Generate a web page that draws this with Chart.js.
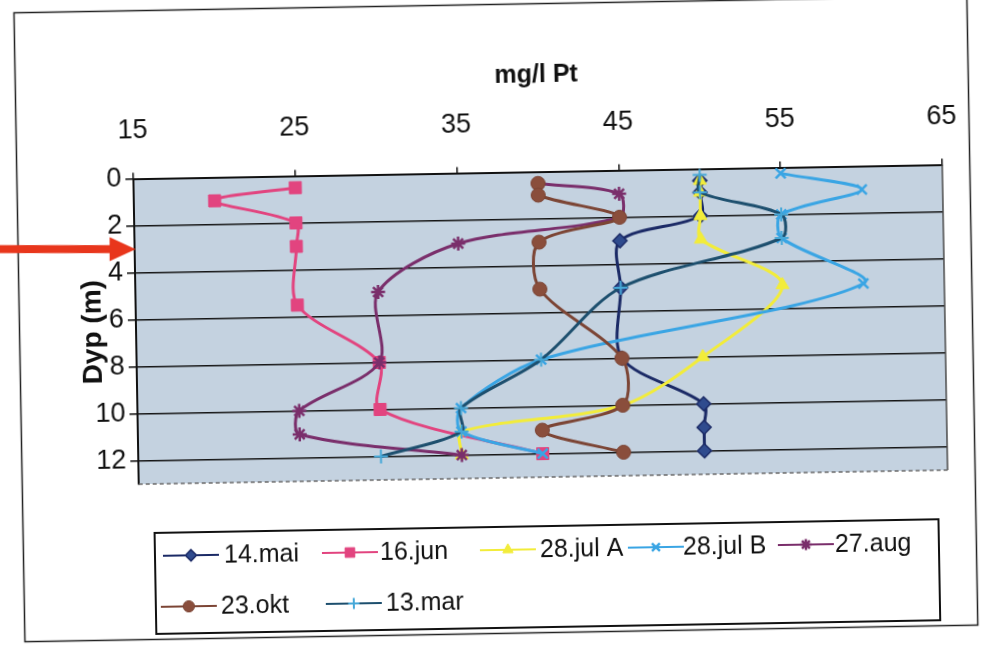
<!DOCTYPE html>
<html>
<head>
<meta charset="utf-8">
<script src="https://cdn.jsdelivr.net/npm/chart.js@4.4.1/dist/chart.umd.min.js"></script>
<style>
  html, body { margin: 0; padding: 0; background: #fff; overflow: hidden; }
  #wrap { position: absolute; left: 0; top: 0; width: 986px; height: 650px;
          transform: rotate(-1deg); transform-origin: 493px 325px; }
  canvas { display: block; }
</style>
</head>
<body>
<div id="wrap"><canvas id="c" width="986" height="650"></canvas></div>
<script>
// Colour (mg/l Pt) against depth (m) for each sampling date
const seriesNames = ['14.mai', '16.jun', '28.jul A', '28.jul B', '27.aug', '23.okt', '13.mar'];

const depth14mai = [0.5, 1, 2, 3, 5, 8, 10, 11, 12];
const pt14mai    = [50, 50, 50, 45, 45, 45, 50, 50, 50];

const depth16jun = [0.5, 1, 2, 3, 5.5, 8, 10, 12];
const pt16jun    = [25, 20, 25, 25, 25, 30, 30, 40];

const depth28julA = [0.5, 1, 2, 3, 5, 8, 10, 11, 12];
const pt28julA    = [50, 50, 50, 50, 55, 50, 45, 35, 35];

const depth28julB = [0.25, 1, 2, 3, 5, 8, 10, 11, 12];
const pt28julB    = [55, 60, 55, 55, 60, 40, 35, 35, 40];

const depth27aug = [0.5, 1, 2, 3, 5, 8, 10, 11, 12];
const pt27aug    = [40, 45, 45, 35, 30, 30, 25, 25, 35];

const depth23okt = [0.5, 1, 2, 3, 5, 8, 10, 11, 12];
const pt23okt    = [40, 40, 45, 40, 40, 45, 45, 40, 45];

const depth13mar = [0.25, 1, 2, 3, 5, 8, 10, 11, 12];
const pt13mar    = [50, 50, 55, 55, 45, 40, 35, 35, 30];

const ptTicks    = [15, 25, 35, 45, 55, 65];
const depthTicks = [0, 2, 4, 6, 8, 10, 12];
const arrowDepth = 3;

const seriesDepths = [depth14mai, depth16jun, depth28julA, depth28julB, depth27aug, depth23okt, depth13mar];
const seriesValues = [pt14mai, pt16jun, pt28julA, pt28julB, pt27aug, pt23okt, pt13mar];

const styles = [
  { line: '#1B2A66', fill: '#2F4B8E', edge: '#1B2A66', shape: 'rectRot',  r: 7,   bw: 1.5 },
  { line: '#E2447F', fill: '#E2447F', edge: '#E2447F', shape: 'rect',     r: 8.5, bw: 1 },
  { line: '#F2EC3A', fill: '#F2EC3A', edge: '#F2EC3A', shape: 'triangle', r: 7.5, bw: 1 },
  { line: '#3AA5E4', fill: '#3AA5E4', edge: '#3AA5E4', shape: 'crossRot', r: 7,   bw: 2.5 },
  { line: '#7A2E6B', fill: '#7A2E6B', edge: '#7A2E6B', shape: 'star',     r: 7,   bw: 2.5 },
  { line: '#7C4535', fill: '#8A4E3C', edge: '#7C4535', shape: 'circle',   r: 7,   bw: 1 },
  { line: '#1D4F6E', fill: '#46A8D8', edge: '#46A8D8', shape: 'cross',    r: 7,   bw: 2 }
];

const FONT = '"Liberation Sans", Arial, sans-serif';
const n = seriesNames.length;

const datasets = seriesNames.map((name, i) => {
  const s = styles[i];
  return {
    label: name,
    data: seriesDepths[i].map((d, k) => ({ x: seriesValues[i][k], y: d })),
    showLine: true,
    tension: 0.3,
    borderColor: s.line,
    backgroundColor: s.fill,
    borderWidth: 3,
    pointStyle: s.shape,
    pointRadius: s.r,
    pointHoverRadius: s.r,
    pointBackgroundColor: s.fill,
    pointBorderColor: s.edge,
    pointBorderWidth: s.bw,
    order: n - 1 - i
  };
});

// legend slots: [line start x, text x, row y]
const legendSlots = [
  [159, 220, 550], [318, 376, 550], [476, 536, 550], [624, 679, 550], [774, 831, 550],
  [156, 216, 601], [321, 381, 601]
];

const decor = {
  id: 'decor',
  beforeDraw(chart) {
    const { ctx, chartArea: a } = chart;
    ctx.save();
    ctx.fillStyle = '#C4D2E0';
    ctx.fillRect(a.left, a.top, a.right - a.left, a.bottom - a.top);
    ctx.restore();
  },
  afterDraw(chart) {
    const { ctx, chartArea: a } = chart;
    const ys = chart.scales.y;
    ctx.save();
    // right and bottom edges of the plot area
    ctx.strokeStyle = '#4a4a4a';
    ctx.lineWidth = 1.5;
    ctx.beginPath();
    ctx.moveTo(a.right, a.top);
    ctx.lineTo(a.right, a.bottom);
    ctx.stroke();
    ctx.strokeStyle = '#6a6a6a';
    ctx.setLineDash([4, 3]);
    ctx.beginPath();
    ctx.moveTo(a.left, a.bottom);
    ctx.lineTo(a.right, a.bottom);
    ctx.stroke();
    ctx.setLineDash([]);

    // outer frame
    ctx.strokeStyle = '#222';
    ctx.lineWidth = 1.5;
    ctx.strokeRect(19.5, 4.5, 953, 629);

    // legend box
    ctx.strokeStyle = '#111';
    ctx.lineWidth = 2;
    ctx.strokeRect(151, 527, 784, 101);

    const drawPoint = Chart.helpers && Chart.helpers.drawPoint;
    chart.data.datasets.forEach((ds, i) => {
      const [sx, tx, y] = legendSlots[i];
      ctx.strokeStyle = ds.borderColor;
      ctx.lineWidth = 2;
      ctx.beginPath();
      ctx.moveTo(sx, y);
      ctx.lineTo(sx + 56, y);
      ctx.stroke();
      ctx.fillStyle = ds.pointBackgroundColor;
      ctx.strokeStyle = ds.pointBorderColor;
      ctx.lineWidth = ds.pointBorderWidth;
      if (drawPoint) {
        drawPoint(ctx, { pointStyle: ds.pointStyle, rotation: 0, radius: ds.pointRadius * 0.8, borderWidth: ds.pointBorderWidth }, sx + 28, y);
      }
      ctx.fillStyle = '#111';
      ctx.font = '25px ' + FONT;
      ctx.textBaseline = 'middle';
      ctx.textAlign = 'left';
      ctx.fillText(ds.label, tx, y + 1);
    });

    // pointer arrow at the given depth
    const tipX = a.left + 1;
    const tipY = ys.getPixelForValue(arrowDepth);
    ctx.translate(tipX, tipY);
    ctx.rotate(Math.PI / 180);
    ctx.fillStyle = '#E8361C';
    ctx.fillRect(-160, -4, 136, 8);
    ctx.beginPath();
    ctx.moveTo(0, 0);
    ctx.lineTo(-26, -12);
    ctx.lineTo(-26, 12);
    ctx.closePath();
    ctx.fill();
    ctx.restore();
  }
};

new Chart(document.getElementById('c'), {
  type: 'scatter',
  data: { datasets },
  plugins: [decor],
  options: {
    responsive: false,
    animation: false,
    events: [],
    layout: { padding: { left: 70, top: 55, right: 40, bottom: 172 } },
    plugins: { legend: { display: false }, tooltip: { enabled: false } },
    scales: {
      x: {
        type: 'linear',
        position: 'top',
        min: ptTicks[0],
        max: ptTicks[ptTicks.length - 1],
        afterBuildTicks: s => { s.ticks = ptTicks.map(v => ({ value: v })); },
        afterFit: s => { s.height = 172.5 - 55; },
        ticks: { color: '#111', font: { family: FONT, size: 27 }, padding: 26, maxRotation: 0 },
        grid: { drawOnChartArea: false, color: '#111', lineWidth: 1.5, tickLength: 6 },
        border: { color: '#111', width: 2 },
        title: { display: true, text: 'mg/l Pt', color: '#111',
                 font: { family: FONT, size: 25, weight: 'bold' }, padding: { top: 6, bottom: 0 } }
      },
      y: {
        type: 'linear',
        reverse: true,
        min: 0,
        max: 13,
        afterBuildTicks: s => { s.ticks = depthTicks.map(v => ({ value: v })); },
        afterFit: s => { s.width = 136 - 70; },
        ticks: { color: '#111', font: { family: FONT, size: 27 }, padding: 4 },
        grid: { color: '#151515', lineWidth: 1.6, tickLength: 8 },
        border: { color: '#111', width: 2 },
        title: { display: true, text: 'Dyp (m)', color: '#111',
                 font: { family: FONT, size: 28, weight: 'bold' }, padding: { top: 6, bottom: 0 } }
      }
    }
  }
});
</script>
</body>
</html>
